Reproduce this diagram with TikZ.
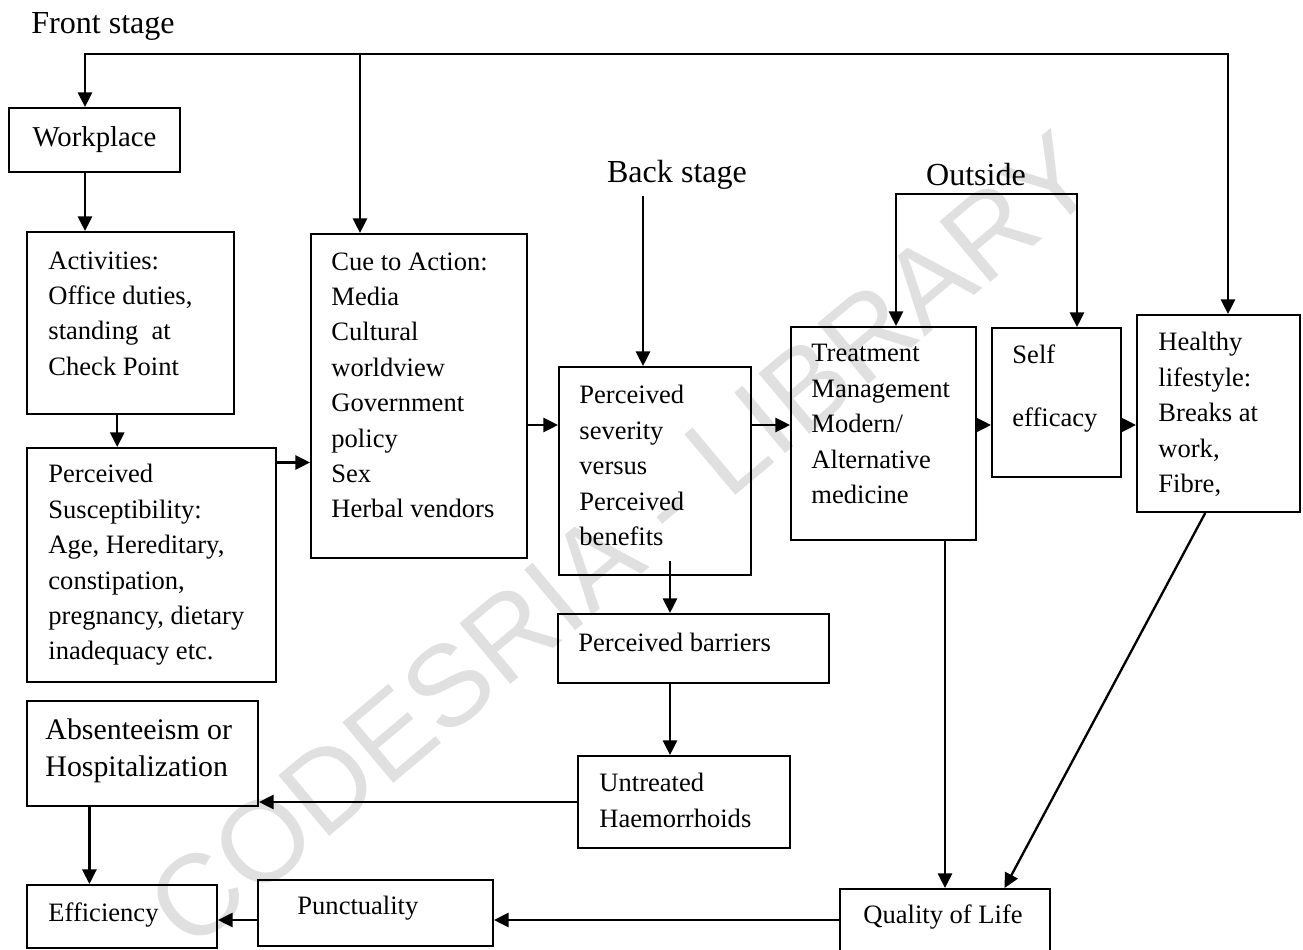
\documentclass[tikz,border=0pt]{standalone}
\usepackage{fontspec}
\setmainfont{Liberation Serif}
\newfontfamily\wmfont{Liberation Sans}
\usetikzlibrary{arrows.meta,fit}

\tikzset{
  box/.style={draw, line width=0.9pt, inner sep=0pt},
  txt/.style={inner sep=0pt, align=left, anchor=north west, font=\fontsize{12}{16}\selectfont},
  head/.style={inner sep=0pt, font=\fontsize{14.5}{17}\selectfont},
  arr/.style={-{Triangle[width=6.4pt,length=6.6pt]}, line width=1.05pt},
  arrs/.style={{Triangle[width=6.4pt,length=6.6pt]}-{Triangle[width=6.4pt,length=6.6pt]}, line width=1.05pt}
}

\begin{document}
\begin{tikzpicture}[x=0.452pt,y=-0.452pt]
\useasboundingbox (0,0) rectangle (1303,950);

% watermark
\node[rotate=40, text=black!12, font=\wmfont\fontsize{52}{52}\selectfont] (wm) at (622,540) {CODESRIA - LIBRARY};

% headings
\node[head] (fs) at (103,26) {Front stage};
\node[head] (bs) at (677,175) {Back stage};
\node[head] (os) at (976,175) {Outside};

% boxes
\node[box, fit={(9,108) (180,172)}] (work) {};
\node[inner sep=0pt, font=\fontsize{13}{16}\selectfont] (work-t) at (work.center) {Workplace};

\node[box, fit={(27,232) (234,414)}] (act) {};
\node[txt] (act-t) at (48,251) {Activities:\\Office duties,\\standing\ \ at\\Check Point};

\node[box, fit={(27,448) (276,682)}] (sus) {};
\node[txt] (sus-t) at (48,464) {Perceived\\Susceptibility:\\Age, Hereditary,\\constipation,\\pregnancy, dietary\\inadequacy etc.};

\node[box, fit={(311,234) (527,558)}] (cue) {};
\node[txt] (cue-t) at (331,252) {Cue to Action:\\Media\\Cultural\\worldview\\Government\\policy\\Sex\\Herbal vendors};

\node[box, fit={(559,367) (751,575)}] (sev) {};
\node[txt] (sev-t) at (579,385) {Perceived\\severity\\versus\\Perceived\\benefits};

\node[box, fit={(558,614) (829,683)}] (bar) {};
\node[txt] (bar-t) at (578,633) {Perceived barriers};

\node[box, fit={(578,756) (790,848)}] (unt) {};
\node[txt] (unt-t) at (599,773) {Untreated\\Haemorrhoids};

\node[box, fit={(27,701) (258,806)}] (abs) {};
\node[txt, font=\fontsize{13.5}{17}\selectfont] (abs-t) at (45,718) {Absenteeism or\\Hospitalization};

\node[box, fit={(27,885) (217,948)}] (eff) {};
\node[txt] (eff-t) at (48,902) {Efficiency};

\node[box, fit={(258,880) (493,946)}] (pun) {};
\node[txt] (pun-t) at (297,896) {Punctuality};

\node[box, fit={(840,889) (1050,951)}] (qol) {};
\node[inner sep=0pt, font=\fontsize{12}{16}\selectfont] (qol-t) at (943,917) {Quality of Life};

\node[box, fit={(791,327) (976,540)}] (tm) {};
\node[txt] (tm-t) at (811,344) {Treatment\\Management\\Modern/\\Alternative\\medicine};

\node[box, fit={(992,328) (1121,477)}] (se) {};
\node[txt] (se-t) at (1012,344) {Self\\[12.5pt]efficacy};

\node[box, fit={(1137,315) (1300,512)}] (hl) {};
\node[txt] (hl-t) at (1158,332) {Healthy\\lifestyle:\\Breaks at\\work,\\Fibre,};

% front stage bus
\coordinate (fs-l) at (85,54);
\coordinate (fs-m) at (360,54);
\coordinate (fs-r) at (1228,54);
\draw[arrs] (fs-l |- work.north) -- (fs-l) -- (fs-r) -- (fs-r |- hl.north);
\draw[arr] (fs-m) -- (fs-m |- cue.north);

% outside bracket
\coordinate (os-l) at (896,194);
\coordinate (os-r) at (1077,194);
\draw[arrs] (os-l |- tm.north) -- (os-l) -- (os-r) -- (os-r |- se.north);

% back stage
\coordinate (bs-in) at (643,196);
\draw[arr] (bs-in) -- (bs-in |- sev.north);

% left column
\draw[arr] (fs-l |- work.south) -- (fs-l |- act.north);
\coordinate (as) at ([xshift=-6pt]act.south);
\draw[arr] (as) -- (as |- sus.north);
\coordinate (sc) at ([yshift=-7pt]sus.north east);
\draw[arr] (sc) -- (sc -| cue.west);

% middle row
\coordinate (row) at (0,425);
\draw[arr] (cue.east |- row) -- (sev.west |- row);
\draw[arr] (sev.east |- row) -- (tm.west |- row);
\draw[arr] (tm.east |- row) -- (se.west |- row);
\draw[arr] (se.east |- row) -- (hl.west |- row);

% barriers
\coordinate (bc) at (670,561);
\draw[arr] (bc) -- (bc |- bar.north);
\draw[arr] (bc |- bar.south) -- (bc |- unt.north);
\draw[arr] (unt.west) -- (unt.west -| abs.east);
\coordinate (ae) at ([xshift=-24pt]abs.south);
\draw[arr] (ae) -- (ae |- eff.north);

% quality of life
\draw[arr] (qol.north |- tm.south) -- (qol.north);
\coordinate (hs) at ([xshift=-6pt]hl.south);
\coordinate (qn) at ([xshift=-21pt]qol.north east);
\draw[arr] (hs) -- (qn);
\draw[arr] (qol.west) -- (qol.west -| pun.east);
\draw[arr] (pun.west |- qol.west) -- (qol.west -| eff.east);
\end{tikzpicture}
\end{document}
